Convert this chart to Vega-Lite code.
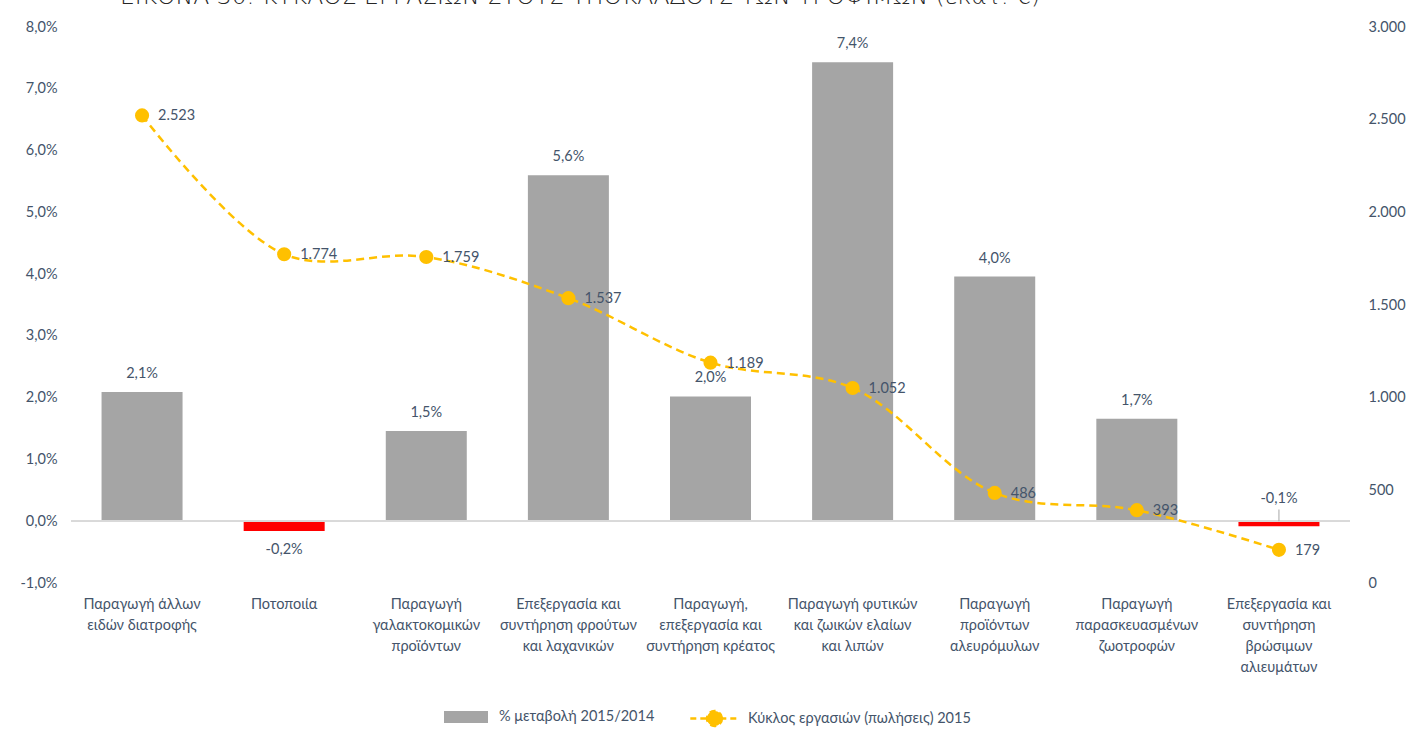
{
  "$schema": "https://vega.github.io/schema/vega-lite/v6.json",
  "width": 1279,
  "height": 556,
  "autosize": {"type": "none"},
  "padding": {"left": 71, "top": 27, "right": 56, "bottom": 153},
  "background": "#ffffff",
  "title": {
    "text": "ΕΙΚΟΝΑ 30: ΚΥΚΛΟΣ ΕΡΓΑΣΙΩΝ ΣΤΟΥΣ ΥΠΟΚΛΑΔΟΥΣ ΤΩΝ ΤΡΟΦΙΜΩΝ (εκατ. €)",
    "anchor": "start",
    "dx": 100,
    "dy": 28,
    "offset": 20,
    "baseline": "alphabetic",
    "font": "DejaVu Sans",
    "fontSize": 23.5,
    "fontWeight": 200,
    "color": "#262626"
  },
  "data": {
    "values": [
      {"cat": "Παραγωγή άλλων|ειδών διατροφής", "pct": 0.0209, "sales": 2523},
      {"cat": "Ποτοποιία", "pct": -0.0016, "sales": 1774},
      {"cat": "Παραγωγή|γαλακτοκομικών|προϊόντων", "pct": 0.0146, "sales": 1759},
      {"cat": "Επεξεργασία και|συντήρηση φρούτων|και λαχανικών", "pct": 0.056, "sales": 1537},
      {"cat": "Παραγωγή,|επεξεργασία και|συντήρηση κρέατος", "pct": 0.0202, "sales": 1189},
      {"cat": "Παραγωγή φυτικών|και ζωικών ελαίων|και λιπών", "pct": 0.0743, "sales": 1052},
      {"cat": "Παραγωγή|προϊόντων|αλευρόμυλων", "pct": 0.0396, "sales": 486},
      {"cat": "Παραγωγή|παρασκευασμένων|ζωοτροφών", "pct": 0.0166, "sales": 393},
      {"cat": "Επεξεργασία και|συντήρηση|βρώσιμων|αλιευμάτων", "pct": -0.0008, "sales": 179}
    ]
  },
  "encoding": {
    "x": {
      "field": "cat",
      "type": "nominal",
      "sort": null,
      "scale": {"paddingInner": 0.43, "paddingOuter": 0.215},
      "axis": {
        "title": null,
        "labelAngle": 0,
        "labelExpr": "split(datum.label, '|')",
        "labelLineHeight": 21,
        "labelPadding": 14,
        "labelBaseline": "top",
        "labelLimit": 200,
        "domain": false,
        "ticks": false,
        "grid": false,
        "labelFont": "Lato",
        "labelFontSize": 14.5,
        "labelColor": "#44546a"
      }
    }
  },
  "layer": [
    {
      "encoding": {
        "y": {
          "field": "pct",
          "type": "quantitative",
          "scale": {"domain": [-0.01, 0.08], "nice": false, "zero": false},
          "axis": {
            "title": null,
            "format": ".1%",
            "values": [-0.01, 0, 0.01, 0.02, 0.03, 0.04, 0.05, 0.06, 0.07, 0.08],
            "domain": false,
            "ticks": false,
            "grid": false,
            "labelPadding": 14,
            "labelFont": "Lato",
            "labelFontSize": 14.5,
            "labelColor": "#44546a",
            "orient": "left"
          }
        }
      },
      "layer": [
        {
          "mark": {"type": "bar"},
          "encoding": {
            "color": {
              "condition": {"test": "datum.pct < 0", "value": "#ff0000"},
              "datum": "% μεταβολή 2015/2014",
              "scale": {"range": ["#a5a5a5"]},
              "legend": {
                "orient": "none",
                "legendX": 384,
                "legendY": 679,
                "title": null,
                "symbolType": "M-2,-0.55H2V0.55H-2Z",
                "symbolSize": 484,
                "symbolStrokeWidth": 0,
                "labelFont": "Lato",
                "labelFontSize": 14.5,
                "labelColor": "#44546a",
                "labelOffset": 22,
                "labelLimit": 400
              }
            }
          }
        },
        {
          "mark": {"type": "rule", "color": "#d9d9d9", "strokeWidth": 1.5},
          "encoding": {"y": {"datum": 0}, "x": null}
        },
        {
          "transform": [{"filter": "datum.pct < 0 && datum.pct > -0.001"}],
          "mark": {"type": "rule", "color": "#a6a6a6", "strokeWidth": 1},
          "encoding": {"y": {"datum": 0}, "y2": {"datum": 0.0019}}
        },
        {
          "transform": [{"filter": "datum.pct >= 0"}],
          "mark": {"type": "text", "baseline": "bottom", "dy": -11, "font": "Lato", "fontSize": 14.5, "color": "#44546a"},
          "encoding": {"text": {"field": "pct", "type": "quantitative", "format": ".1%"}}
        },
        {
          "transform": [{"filter": "datum.pct <= -0.001"}],
          "mark": {"type": "text", "baseline": "top", "dy": 12, "font": "Lato", "fontSize": 14.5, "color": "#44546a"},
          "encoding": {"text": {"field": "pct", "type": "quantitative", "format": ".1%"}}
        },
        {
          "transform": [{"filter": "datum.pct < 0 && datum.pct > -0.001"}],
          "mark": {"type": "text", "baseline": "bottom", "dy": -15, "font": "Lato", "fontSize": 14.5, "color": "#44546a"},
          "encoding": {
            "y": {"datum": 0},
            "text": {"field": "pct", "type": "quantitative", "format": ".1%"}
          }
        }
      ]
    },
    {
      "encoding": {
        "y": {
          "field": "sales",
          "type": "quantitative",
          "scale": {"domain": [0, 3000], "nice": false},
          "axis": {
            "title": null,
            "orient": "right",
            "format": ",.0f",
            "values": [0, 500, 1000, 1500, 2000, 2500, 3000],
            "domain": false,
            "ticks": false,
            "grid": false,
            "labelPadding": 18,
            "labelFont": "Lato",
            "labelFontSize": 14.5,
            "labelColor": "#44546a"
          }
        }
      },
      "layer": [
        {
          "mark": {"type": "line", "interpolate": "catmull-rom", "strokeWidth": 2.5, "strokeDash": [8, 5]},
          "encoding": {
            "color": {
              "datum": "Κύκλος εργασιών (πωλήσεις) 2015",
              "scale": {"range": ["#ffc000"]},
              "legend": {
                "orient": "none",
                "legendX": 631,
                "legendY": 679,
                "title": null,
                "symbolType": "M-2.2,0H2.2M0.68,0A0.68,0.68,0,1,1,-0.68,0A0.68,0.68,0,1,1,0.68,0Z",
                "symbolSize": 484,
                "symbolStrokeWidth": 2.5,
                "symbolDash": [6, 4],
                "symbolFillColor": "#ffc000",
                "symbolStrokeColor": "#ffc000",
                "labelFont": "Lato",
                "labelFontSize": 14.5,
                "labelColor": "#44546a",
                "labelOffset": 21,
                "labelLimit": 400
              }
            }
          }
        },
        {
          "mark": {"type": "circle", "size": 200, "opacity": 1, "color": "#ffc000"}
        },
        {
          "mark": {"type": "text", "align": "left", "baseline": "middle", "dx": 16, "dy": 1, "font": "Lato", "fontSize": 14.5, "color": "#44546a"},
          "encoding": {"text": {"field": "sales", "type": "quantitative", "format": ",.0f"}}
        }
      ]
    }
  ],
  "resolve": {"scale": {"y": "independent", "color": "independent"}},
  "config": {
    "locale": {
      "number": {"decimal": ",", "thousands": ".", "grouping": [3], "currency": ["", " €"], "minus": "-"}
    },
    "view": {"stroke": null}
  }
}
